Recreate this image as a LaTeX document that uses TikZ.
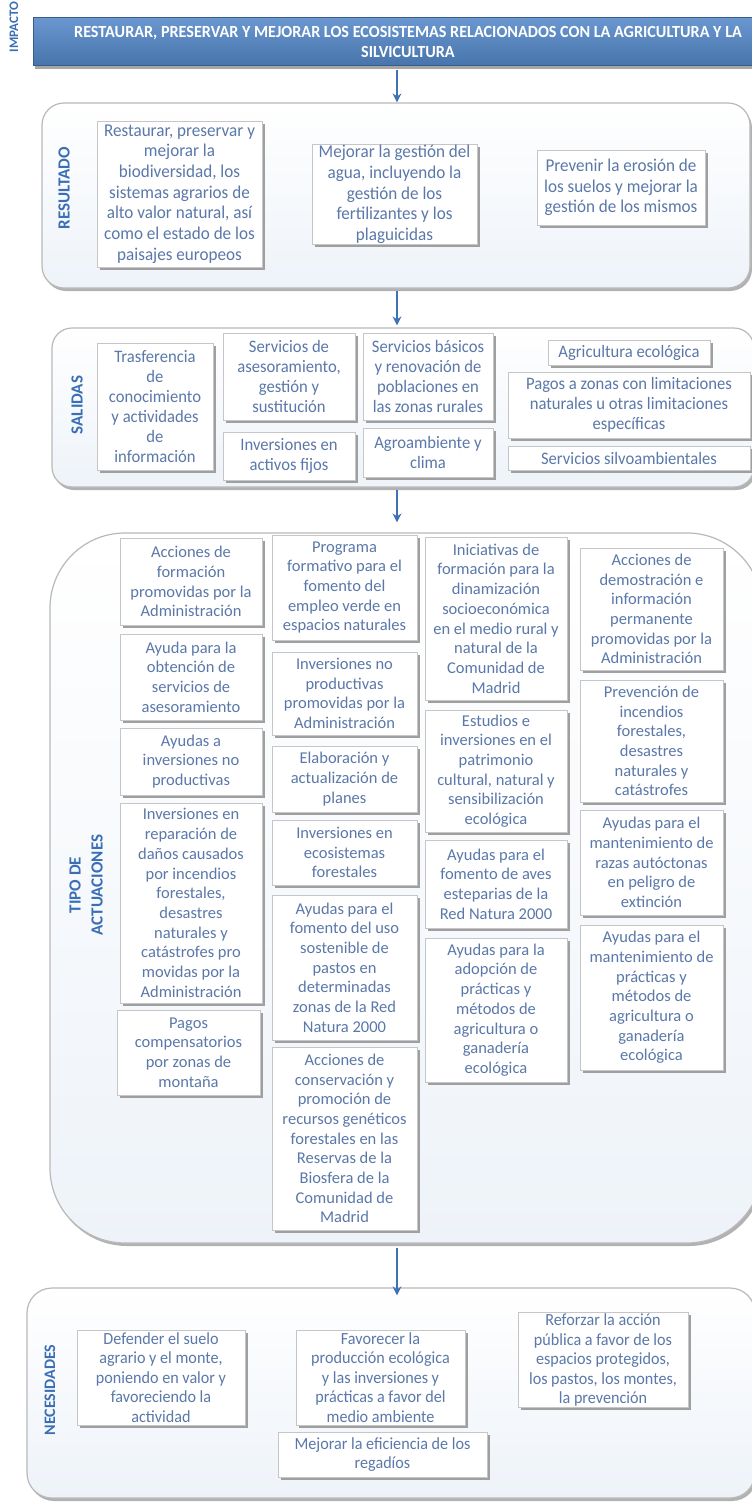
\documentclass[tikz,border=0pt]{standalone}
\usepackage{fontspec}
\setmainfont{Carlito}
\newfontfamily\nf[FakeStretch=0.95]{Carlito}
\usetikzlibrary{shadows,arrows.meta}
\definecolor{txt}{HTML}{5A78A9}
\definecolor{lbl}{HTML}{3A6EB5}
\definecolor{arrc}{HTML}{3F72B5}
\definecolor{barc}{HTML}{4F81BD}
\definecolor{bartop}{HTML}{6A97D0}
\definecolor{bard}{HTML}{385D8A}
\definecolor{pfill}{HTML}{EEF3F9}
\begin{document}
\begin{tikzpicture}[x=1pt,y=-1pt,
  sz/.style 2 args={minimum width=#1pt, minimum height=#2pt},
  bx/.style={draw=gray!45, line width=0.7pt, fill=white,
    drop shadow={shadow xshift=2.5pt,shadow yshift=-2.5pt,fill=gray!75,opacity=1},
    align=center, inner sep=1pt, text=txt},
  panel/.style={draw=gray!55, line width=1.2pt, top color=white, bottom color=pfill,
    drop shadow={shadow xshift=2pt,shadow yshift=-3pt,fill=gray!60,opacity=1}},
  fa/.style={font=\nf\fontsize{18}{20.7}\selectfont},
  fb/.style={font=\nf\fontsize{17.5}{20}\selectfont},
  fc/.style={font=\fontsize{16.5}{19.7}\selectfont},
  fd/.style={font=\nf\fontsize{17}{19.5}\selectfont},
  lb/.style={rotate=90, text=lbl, align=center, font=\bfseries\fontsize{17}{22}\selectfont},
  ar/.style={draw=arrc, line width=2pt, -{Stealth[length=9pt,width=9pt]}}
]
\useasboundingbox (0,0) rectangle (752,1508);
\fill[white] (0,0) rectangle (752,1508);

% IMPACTO
\node[lb, font=\bfseries\fontsize{13}{15}\selectfont] (limp) at (14,27) {IMPACTO};
\node[draw=bard, line width=0.8pt, top color=bartop, bottom color=barc!90!black,
  drop shadow={shadow xshift=2pt,shadow yshift=-3pt,fill=gray!70,opacity=1},
  sz={722}{48}] (bar) at (394,41.5) {};
\node[text=white, align=center, font=\nf\bfseries\fontsize{17}{20}\selectfont] (bartxt) at (408,41.5)
  {RESTAURAR, PRESERVAR Y MEJORAR LOS ECOSISTEMAS RELACIONADOS CON LA AGRICULTURA Y LA\\SILVICULTURA};

% panels
\node[panel, rounded corners=22pt, sz={708}{185}] (pres) at (396,195.5) {};
\node[panel, rounded corners=20pt, sz={702}{159}] (psal) at (403,407.5) {};
\node[panel, rounded corners=75pt, sz={712}{710}] (ptip) at (406,888) {};
\node[panel, rounded corners=25pt, sz={728}{210}] (pnec) at (391,1393) {};

% arrows
\coordinate (ax) at (397,0);
\draw[ar, shorten <=4pt] (bar.south -| ax) -- (pres.north -| ax);
\draw[ar, shorten <=2pt, shorten >=2pt] (pres.south -| ax) -- (psal.north -| ax);
\draw[ar, shorten <=2pt, shorten >=10pt] (psal.south -| ax) -- (ptip.north -| ax);
\draw[ar, shorten <=4pt, shorten >=-8pt] (ptip.south -| ax) -- (pnec.north -| ax);

% RESULTADO
\node[lb] (lres) at (64,188) {RESULTADO};
\node[bx, fa, sz={165}{146}] (r1) at (179.5,194) {Restaurar, preservar y\\mejorar la\\biodiversidad, los\\sistemas agrarios de\\alto valor natural, así\\como el estado de los\\paisajes europeos};
\node[bx, fa, sz={165}{97}] (r2) at (394.5,194.5) {Mejorar la gestión del\\agua, incluyendo la\\gestión de los\\fertilizantes y los\\plaguicidas};
\node[bx, fa, sz={168}{75}] (r3) at (621,187.5) {Prevenir la erosión de\\los suelos y mejorar la\\gestión de los mismos};

% SALIDAS
\node[lb] (lsal) at (77,405) {SALIDAS};
\node[bx, fb, sz={116}{127}] (s1) at (155,406.5) {Trasferencia\\de\\conocimiento\\y actividades\\de\\información};
\node[bx, fb, sz={132}{87}] (s2) at (289,376.5) {Servicios de\\asesoramiento,\\gestión y\\sustitución};
\node[bx, fb, sz={132}{48}] (s3) at (289,456) {Inversiones en\\activos fijos};
\node[bx, fb, sz={130}{87}] (s4) at (428,376.5) {Servicios básicos\\y renovación de\\poblaciones en\\las zonas rurales};
\node[bx, fb, sz={130}{49}] (s5) at (428,452.5) {Agroambiente y\\clima};
\node[bx, fb, sz={162}{25}] (s6) at (629,352.5) {Agricultura ecológica};
\node[bx, fb, sz={242}{66}] (s7) at (629,405) {Pagos a zonas con limitaciones\\naturales u otras limitaciones\\específicas};
\node[bx, fb, sz={242}{24}] (s8) at (629,458) {Servicios silvoambientales};

% TIPO DE ACTUACIONES
\node[lb] (ltip) at (86,885) {TIPO DE\\ACTUACIONES};
\node[bx, fc, sz={142}{87}] (t1) at (191,581.5) {Acciones de\\formación\\promovidas por la\\Administración};
\node[bx, fc, sz={142}{86}] (t2) at (191,677) {Ayuda para la\\obtención de\\servicios de\\asesoramiento};
\node[bx, fc, sz={142}{67}] (t3) at (191,761.5) {Ayudas a\\inversiones no\\productivas};
\node[bx, fc, sz={142}{200}] (t4) at (191,903) {Inversiones en\\reparación de\\daños causados\\por incendios\\forestales,\\desastres\\naturales y\\catástrofes pro\\movidas por la\\Administración};
\node[bx, fc, sz={143}{85}] (t5) at (188.5,1052.5) {Pagos\\compensatorios\\por zonas de\\montaña};
\node[bx, fc, sz={145}{105}] (t6) at (344.5,587.5) {Programa\\formativo para el\\fomento del\\empleo verde en\\espacios naturales};
\node[bx, fc, sz={145}{83}] (t7) at (344.5,693.5) {Inversiones no\\productivas\\promovidas por la\\Administración};
\node[bx, fc, sz={145}{66}] (t8) at (344.5,779) {Elaboración y\\actualización de\\planes};
\node[bx, fc, sz={145}{65}] (t9) at (344.5,852.5) {Inversiones en\\ecosistemas\\forestales};
\node[bx, fc, sz={145}{145}] (t10) at (344.5,967.5) {Ayudas para el\\fomento del uso\\sostenible de\\pastos en\\determinadas\\zonas de la Red\\Natura 2000};
\node[bx, fc, sz={145}{183}] (t11) at (344.5,1138.5) {Acciones de\\conservación y\\promoción de\\recursos genéticos\\forestales en las\\Reservas de la\\Biosfera de la\\Comunidad de\\Madrid};
\node[bx, fc, sz={142}{163}] (t12) at (496,618.5) {Iniciativas de\\formación para la\\dinamización\\socioeconómica\\en el medio rural y\\natural de la\\Comunidad de\\Madrid};
\node[bx, fc, sz={142}{122}] (t13) at (496,771) {Estudios e\\inversiones en el\\patrimonio\\cultural, natural y\\sensibilización\\ecológica};
\node[bx, fc, sz={142}{88}] (t14) at (496,884) {Ayudas para el\\fomento de aves\\esteparias de la\\Red Natura 2000};
\node[bx, fc, sz={142}{144}] (t15) at (496,1010) {Ayudas para la\\adopción de\\prácticas y\\métodos de\\agricultura o\\ganadería\\ecológica};
\node[bx, fc, sz={143}{122}] (t16) at (651.5,609) {Acciones de\\demostración e\\información\\permanente\\promovidas por la\\Administración};
\node[bx, fc, sz={143}{122}] (t17) at (651.5,741) {Prevención de\\incendios\\forestales,\\desastres\\naturales y\\catástrofes};
\node[bx, fc, sz={143}{105}] (t18) at (651.5,862.5) {Ayudas para el\\mantenimiento de\\razas autóctonas\\en peligro de\\extinción};
\node[bx, fc, sz={143}{145}] (t19) at (651.5,997.5) {Ayudas para el\\mantenimiento de\\prácticas y\\métodos de\\agricultura o\\ganadería\\ecológica};

% NECESIDADES
\node[lb, font=\bfseries\fontsize{16}{20}\selectfont] (lnec) at (50,1390) {NECESIDADES};
\node[bx, fd, sz={168}{95}] (n1) at (161,1377.5) {Defender el suelo\\agrario y el monte,\\poniendo en valor y\\favoreciendo la\\actividad};
\node[bx, fd, sz={169}{95}] (n2) at (380.5,1377.5) {Favorecer la\\producción ecológica\\y las inversiones y\\prácticas a favor del\\medio ambiente};
\node[bx, fd, sz={170}{80}] (n3) at (603,1360) {Reforzar la acción\\pública a favor de los\\espacios protegidos,\\los pastos, los montes,\\la prevención};
\node[bx, fd, sz={209}{45}] (n4) at (382.5,1454.5) {Mejorar la eficiencia de los\\regadíos};
\end{tikzpicture}
\end{document}
